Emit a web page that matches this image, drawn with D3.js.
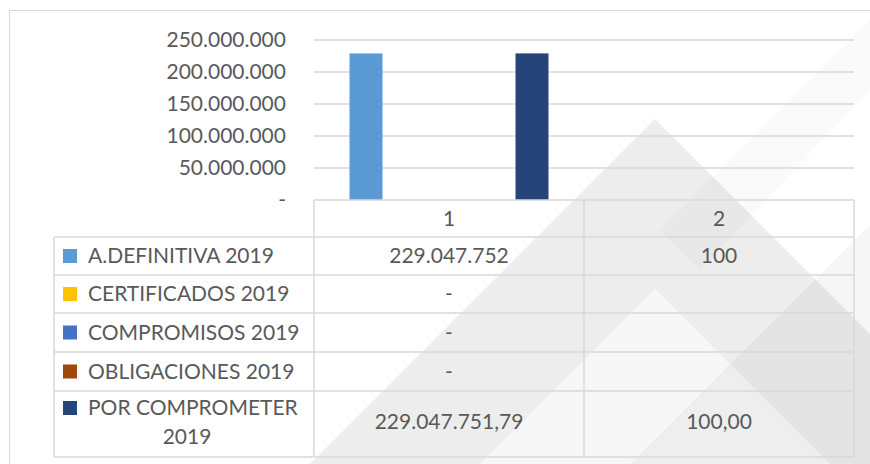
<!DOCTYPE html>
<html>
<head>
<meta charset="utf-8">
<script src="https://cdn.jsdelivr.net/npm/d3@7"></script>
<style>
  html, body { margin: 0; padding: 0; background: #fff; }
  svg { display: block; }
  text { font-family: Lato, "Open Sans", sans-serif; fill: #595959; }
</style>
</head>
<body>
<div id="chart"></div>
<script>
// chart data
var categories = ['1', '2'];
var seriesNames = ['A.DEFINITIVA 2019', 'CERTIFICADOS 2019', 'COMPROMISOS 2019', 'OBLIGACIONES 2019', 'POR COMPROMETER 2019'];
var seriesColors = ['#5B9BD5', '#FFC000', '#4472C4', '#9E480E', '#264478'];
var aDefinitiva = [229047752, 100];
var certificados = [0, null];
var compromisos = [0, null];
var obligaciones = [0, null];
var porComprometer = [229047751.79, 100];
var seriesDecimals = [0, 0, 0, 0, 2];
var yTicks = [0, 50000000, 100000000, 150000000, 200000000, 250000000];

var seriesValues = [aDefinitiva, certificados, compromisos, obligaciones, porComprometer];

var w = 870, h = 464,
    plot = { left: 314, right: 854, top: 40, bottom: 200 },
    fontSize = 21,
    grid = '#D9D9D9';

var locale = d3.formatLocale({ decimal: ',', thousands: '.', grouping: [3], currency: ['', ''] });
var fmtInt = locale.format(',.0f'),
    fmtDec = locale.format(',.2f');

var svg = d3.select('#chart').append('svg')
    .attr('width', w)
    .attr('height', h);

// faint watermark shapes behind everything
var wm = svg.append('g');
wm.append('polygon').attr('points', '655,119 1000,464 310,464').attr('fill', '#000').attr('opacity', 0.07);
wm.append('polygon').attr('points', '655,289 830,464 480,464').attr('fill', '#fff').attr('opacity', 0.55);
wm.append('polygon').attr('points', '905,190 1180,464 630,464').attr('fill', '#000').attr('opacity', 0.035);
wm.append('polygon').attr('points', '870,20 870,90 700,270 660,230').attr('fill', '#000').attr('opacity', 0.018);

// chart border
svg.append('rect')
    .attr('x', 9.5).attr('y', 10.5)
    .attr('width', 900).attr('height', 500)
    .attr('fill', 'none')
    .attr('stroke', grid);

var y = d3.scaleLinear()
    .domain([0, 250000000])
    .range([plot.bottom, plot.top]);

var x0 = d3.scaleBand()
    .domain(categories)
    .range([plot.left, plot.right]);

var x1 = d3.scaleBand()
    .domain(seriesNames)
    .range([0, 199])
    .paddingInner(0.205);

var groupOffset = (x0.bandwidth() - 199) / 2;

// gridlines
svg.append('g')
    .selectAll('line')
    .data(yTicks.filter(function(d){ return d > 0; }))
    .enter()
    .append('line')
    .attr('x1', plot.left).attr('x2', plot.right)
    .attr('y1', function(d){ return y(d); })
    .attr('y2', function(d){ return y(d); })
    .attr('stroke', grid)
    .attr('stroke-width', 1.5);

// y axis labels
var yAxis = d3.axisLeft(y)
    .tickValues(yTicks)
    .tickSize(0)
    .tickPadding(28)
    .tickFormat(function(d){ return d === 0 ? '-' : fmtInt(d); });

var yg = svg.append('g')
    .attr('transform', 'translate(' + plot.left + ',0)')
    .call(yAxis);
yg.select('.domain').remove();
yg.selectAll('text')
    .style('font-size', fontSize + 'px')
    .attr('fill', '#595959')
    .style('font-family', 'Lato, "Open Sans", sans-serif');

// bars
var barData = [];
categories.forEach(function(c, ci){
    seriesNames.forEach(function(s, si){
        var v = seriesValues[si][ci];
        if (v !== null) barData.push({ cat: c, series: s, color: seriesColors[si], value: v });
    });
});

svg.append('g')
    .selectAll('rect')
    .data(barData)
    .enter()
    .append('rect')
    .attr('x', function(d){ return x0(d.cat) + groupOffset + x1(d.series); })
    .attr('width', x1.bandwidth())
    .attr('y', function(d){ return y(d.value); })
    .attr('height', function(d){ return y(0) - y(d.value); })
    .attr('fill', function(d){ return d.color; });

// data table
var tableLeft = 54,
    headerBottom = 237,
    rowEdges = [237, 275, 313, 352, 391, 457];

var tg = svg.append('g')
    .attr('stroke', grid)
    .attr('stroke-width', 1.5);

tg.append('line').attr('x1', plot.left).attr('x2', plot.right).attr('y1', plot.bottom).attr('y2', plot.bottom);
rowEdges.forEach(function(ry){
    tg.append('line').attr('x1', tableLeft).attr('x2', plot.right).attr('y1', ry).attr('y2', ry);
});
tg.append('line').attr('x1', tableLeft).attr('x2', tableLeft).attr('y1', headerBottom).attr('y2', rowEdges[rowEdges.length - 1]);
[plot.left, x0('2'), plot.right].forEach(function(cx){
    tg.append('line').attr('x1', cx).attr('x2', cx).attr('y1', plot.bottom).attr('y2', rowEdges[rowEdges.length - 1]);
});

// header categories
svg.append('g')
    .selectAll('text')
    .data(categories)
    .enter()
    .append('text')
    .attr('x', function(d){ return x0(d) + x0.bandwidth() / 2; })
    .attr('y', (plot.bottom + headerBottom) / 2)
    .attr('dy', '0.35em')
    .attr('text-anchor', 'middle')
    .style('font-size', fontSize + 'px')
    .text(function(d){ return d; });

// legend rows + values
seriesNames.forEach(function(name, si){
    var top = rowEdges[si], bottom = rowEdges[si + 1], mid = (top + bottom) / 2;
    var lastRow = si === seriesNames.length - 1;
    var labelY = lastRow ? top + 17 : mid;

    svg.append('rect')
        .attr('x', 63).attr('y', labelY - 7)
        .attr('width', 14).attr('height', 14)
        .attr('fill', seriesColors[si]);

    if (lastRow) {
        var parts = name.split(' ');
        svg.append('text')
            .attr('x', 88).attr('y', labelY).attr('dy', '0.35em')
            .style('font-size', fontSize + 'px')
            .text(parts.slice(0, 2).join(' '));
        svg.append('text')
            .attr('x', 187).attr('y', labelY + 29).attr('dy', '0.35em')
            .attr('text-anchor', 'middle')
            .style('font-size', fontSize + 'px')
            .text(parts[2]);
    } else {
        svg.append('text')
            .attr('x', 88).attr('y', labelY).attr('dy', '0.35em')
            .style('font-size', fontSize + 'px')
            .text(name);
    }

    categories.forEach(function(c, ci){
        var v = seriesValues[si][ci];
        if (v === null) return;
        var label = v === 0 ? '-' : (seriesDecimals[si] ? fmtDec(v) : fmtInt(v));
        svg.append('text')
            .attr('x', x0(c) + x0.bandwidth() / 2)
            .attr('y', lastRow ? mid - 2 : mid)
            .attr('dy', '0.35em')
            .attr('text-anchor', 'middle')
            .style('font-size', fontSize + 'px')
            .text(label);
    });
});
</script>
</body>
</html>
